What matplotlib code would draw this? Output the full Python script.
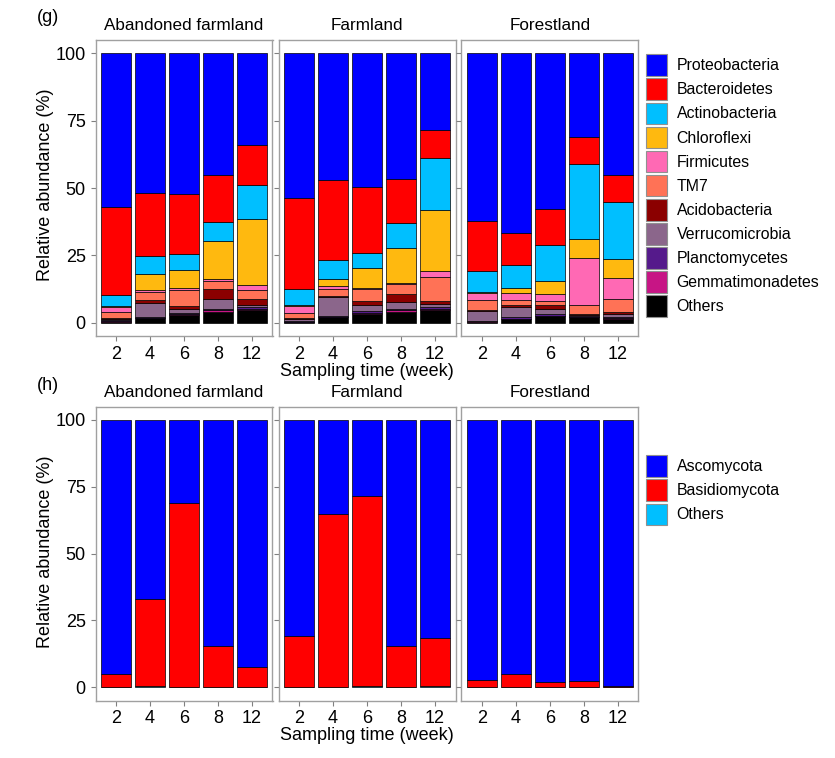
import matplotlib
matplotlib.use("Agg")
import matplotlib.pyplot as plt
from matplotlib.patches import Patch
import numpy as np

plt.rcParams['font.family'] = ['Liberation Sans', 'DejaVu Sans']

weeks = ['2', '4', '6', '8', '12']
sites = ['Abandoned farmland', 'Farmland', 'Forestland']

# bacteria (g), listed top of stack first
bac_taxa = ['Proteobacteria', 'Bacteroidetes', 'Actinobacteria', 'Chloroflexi', 'Firmicutes',
            'TM7', 'Acidobacteria', 'Verrucomicrobia', 'Planctomycetes', 'Gemmatimonadetes', 'Others']
bac_colors = ['#0000FF', '#FF0000', '#00BFFF', '#FFB90F', '#FF69B4',
              '#FF7256', '#8B0000', '#8B668B', '#551A8B', '#C71585', '#000000']

# values per site: rows = taxa (same order as bac_taxa), cols = weeks
bac_abandoned = [
    [56.9, 51.9, 52.2, 45.3, 34.1],
    [32.7, 23.4, 22.3, 17.4, 14.7],
    [4.3, 6.7, 5.8, 7.1, 12.7],
    [0.3, 5.8, 7.0, 14.1, 24.6],
    [1.9, 0.7, 0.6, 0.5, 1.9],
    [2.2, 3.2, 5.9, 3.1, 3.3],
    [0.2, 1.0, 1.3, 3.9, 2.0],
    [0.7, 5.2, 1.5, 3.5, 1.1],
    [0.3, 0.4, 0.4, 0.6, 0.6],
    [0.2, 0.1, 0.3, 0.4, 0.4],
    [0.3, 1.6, 2.7, 4.1, 4.6],
]
bac_farmland = [
    [53.9, 46.9, 49.5, 46.5, 28.4],
    [33.7, 29.8, 24.5, 16.6, 10.5],
    [6.0, 7.1, 5.6, 9.1, 19.1],
    [0.4, 2.7, 7.5, 13.2, 23.0],
    [2.6, 1.0, 0.6, 0.4, 2.1],
    [1.6, 2.5, 4.2, 3.6, 9.0],
    [0.3, 0.6, 1.7, 3.0, 1.1],
    [1.0, 7.1, 2.1, 2.4, 1.2],
    [0.2, 0.3, 0.9, 0.6, 0.6],
    [0.1, 0.1, 0.4, 0.5, 0.3],
    [0.2, 1.9, 3.0, 4.1, 4.7],
]
bac_forest = [
    [62.2, 66.7, 57.7, 31.2, 45.3],
    [18.7, 11.9, 13.3, 10.0, 10.0],
    [7.7, 8.6, 13.4, 27.8, 21.0],
    [0.5, 1.9, 5.0, 6.9, 7.3],
    [2.6, 2.6, 2.6, 17.4, 7.7],
    [3.7, 1.8, 1.4, 3.6, 4.6],
    [0.2, 0.9, 1.6, 0.4, 1.0],
    [3.8, 3.7, 1.9, 0.3, 1.0],
    [0.2, 0.6, 0.6, 0.3, 0.5],
    [0.1, 0.1, 0.2, 0.1, 0.1],
    [0.3, 1.2, 2.3, 2.0, 1.5],
]

# fungi (h)
fun_taxa = ['Ascomycota', 'Basidiomycota', 'Others']
fun_colors = ['#0000FF', '#FF0000', '#00BFFF']
fun_abandoned = [
    [95.2, 67.2, 31.1, 84.7, 92.4],
    [4.8, 32.5, 68.9, 15.3, 7.6],
    [0.0, 0.3, 0.0, 0.0, 0.0],
]
fun_farmland = [
    [81.0, 35.2, 28.5, 84.5, 81.7],
    [19.0, 64.8, 71.2, 15.5, 17.8],
    [0.0, 0.0, 0.3, 0.0, 0.5],
]
fun_forest = [
    [97.3, 95.2, 98.0, 97.8, 99.5],
    [2.7, 4.8, 2.0, 2.2, 0.3],
    [0.0, 0.0, 0.0, 0.0, 0.2],
]

W, H = 835, 758
fig = plt.figure(figsize=(W / 100, H / 100), dpi=100)

panel_left = [95.5, 278.5, 461.5]
panel_w = 177


def px_axes(x0, y_top, w, h):
    return fig.add_axes([x0 / W, 1 - (y_top + h) / H, w / W, h / H])


def draw_row(data_list, taxa, colors, y_top, h, tag, tag_y):
    for i, (site, data) in enumerate(zip(sites, data_list)):
        ax = px_axes(panel_left[i], y_top, panel_w, h)
        vals = np.array(data)
        x = np.arange(1, len(weeks) + 1)
        bottom = np.zeros(len(weeks))
        # stack from the bottom: last taxon first
        for k in range(len(taxa) - 1, -1, -1):
            ax.bar(x, vals[k], width=0.9, bottom=bottom, color=colors[k],
                   edgecolor='black', linewidth=0.5)
            bottom += vals[k]
        ax.set_xlim(0.4, 5.6)
        ax.set_ylim(-5, 105)
        ax.set_xticks(x)
        ax.set_xticklabels(weeks, fontsize=13)
        ax.set_yticks([0, 25, 50, 75, 100])
        if i == 0:
            ax.set_yticklabels(['0', '25', '50', '75', '100'], fontsize=13)
        else:
            ax.set_yticklabels([])
            ax.tick_params(axis='y', length=0)
        for s in ax.spines.values():
            s.set_color('#A0A0A0')
            s.set_linewidth(1.0)
        ax.tick_params(colors='#808080', labelcolor='black', length=3.5, width=0.8)
        fig.text((panel_left[i] + panel_w / 2) / W, 1 - (y_top - 14) / H, site,
                 ha='center', va='center', fontsize=12.3)
    fig.text(46 / W, 1 - (y_top + 145) / H, 'Relative abundance (%)', rotation=90,
             ha='center', va='center', fontsize=13)
    fig.text(((panel_left[0] + panel_left[2] + panel_w) / 2) / W, 1 - (y_top + h + 35) / H,
             'Sampling time (week)', ha='center', va='center', fontsize=13)
    fig.text(48 / W, 1 - tag_y / H, tag, ha='center', va='center', fontsize=13)


draw_row([bac_abandoned, bac_farmland, bac_forest], bac_taxa, bac_colors, 40, 296, '(g)', 18)
draw_row([fun_abandoned, fun_farmland, fun_forest], fun_taxa, fun_colors, 406.5, 294, '(h)', 385)

bac_handles = [Patch(facecolor=c, edgecolor='#909090', linewidth=0.8) for c in bac_colors]
fig.legend(bac_handles, bac_taxa, loc='upper left', bbox_to_anchor=(640 / W, 1 - 48 / H),
           frameon=False, fontsize=11.4, handlelength=1.3, handleheight=1.72,
           labelspacing=0.16, handletextpad=0.62, borderaxespad=0)

fun_handles = [Patch(facecolor=c, edgecolor='#909090', linewidth=0.8) for c in fun_colors]
fig.legend(fun_handles, fun_taxa, loc='upper left', bbox_to_anchor=(640 / W, 1 - 449 / H),
           frameon=False, fontsize=11.4, handlelength=1.3, handleheight=1.72,
           labelspacing=0.16, handletextpad=0.62, borderaxespad=0)

fig.savefig('out.png', dpi=100)
